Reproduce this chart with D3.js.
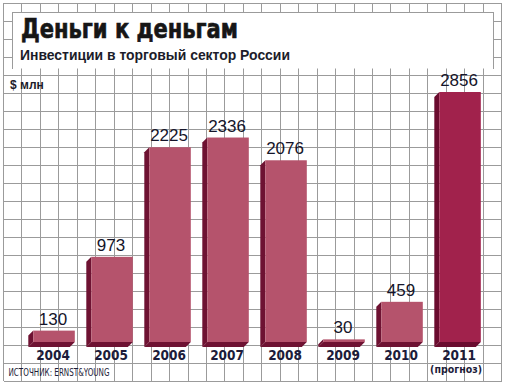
<!DOCTYPE html>
<html>
<head>
<meta charset="utf-8">
<script src="https://cdn.jsdelivr.net/npm/d3@7"></script>
<style>
  html, body { margin: 0; padding: 0; background: #fff; }
  svg { display: block; }
</style>
</head>
<body>
<div id="chart"></div>
<script>
const WIDTH = 507;
const HEIGHT = 385;
const DEPTH = 5; // 3d extrusion, down-left

// data
const years = ["2004", "2005", "2006", "2007", "2008", "2009", "2010", "2011"];
const values = [130, 973, 2225, 2336, 2076, 30, 459, 2856];
const notes = ["", "", "", "", "", "", "", "(прогноз)"];
const forecast = [false, false, false, false, false, false, false, true];

const svg = d3.select("#chart")
    .append("svg")
    .attr("width", WIDTH)
    .attr("height", HEIGHT);

// background grid
const grid = svg.append("g")
    .attr("stroke", "#9b9b9b")
    .attr("stroke-width", 1)
    .attr("shape-rendering", "crispEdges");

const gx = d3.range(28).map(k => 3.5 + k * 18.45);
const gy = d3.range(22).map(k => 381 - k * 18);

grid.selectAll(".vline")
    .data(gx)
    .enter().append("line")
    .attr("x1", d => d).attr("x2", d => d)
    .attr("y1", 3).attr("y2", 381);

grid.selectAll(".hline")
    .data(gy)
    .enter().append("line")
    .attr("x1", 3.5).attr("x2", gx[gx.length - 1])
    .attr("y1", d => d).attr("y2", d => d);

// white header box
svg.append("rect")
    .attr("x", 12.5).attr("y", 12.5)
    .attr("width", 481).attr("height", 56)
    .attr("fill", "#fff");
svg.append("path")
    .attr("d", "M12.5,68.5 V12.5 H493.5 V68.5")
    .attr("fill", "none")
    .attr("stroke", "#9b9b9b")
    .attr("shape-rendering", "crispEdges");

svg.append("text")
    .attr("x", 21).attr("y", 38)
    .attr("font-family", "DejaVu Sans, sans-serif")
    .attr("font-weight", "bold")
    .attr("font-size", 26)
    .attr("fill", "#161616")
    .attr("stroke", "#161616")
    .attr("stroke-width", 0.7)
    .attr("textLength", 217)
    .attr("lengthAdjust", "spacingAndGlyphs")
    .text("Деньги к деньгам");

svg.append("text")
    .attr("x", 20).attr("y", 59.5)
    .attr("font-family", "Liberation Sans, Arial, sans-serif")
    .attr("font-weight", "bold")
    .attr("font-size", 14)
    .attr("fill", "#1c1c2a")
    .attr("textLength", 270)
    .attr("lengthAdjust", "spacingAndGlyphs")
    .text("Инвестиции в торговый сектор России");

svg.append("text")
    .attr("x", 10).attr("y", 89)
    .attr("font-family", "Liberation Sans, Arial, sans-serif")
    .attr("font-weight", "bold")
    .attr("font-size", 12)
    .attr("fill", "#1c1c2a")
    .text("$ млн");

// scales
const x = d3.scaleBand()
    .domain(years)
    .range([33.3, 480.8])
    .paddingInner(0.2845)
    .paddingOuter(0);

const y = d3.scaleLinear()
    .domain([0, 2856])
    .range([342, 92]);

const rows = years.map((yr, i) => ({ year: yr, value: values[i], note: notes[i], forecast: forecast[i] }));

const bar = svg.selectAll(".bar")
    .data(rows)
    .enter().append("g")
    .attr("class", "bar");

const base = y(0);
const w = x.bandwidth();

// left side face
bar.append("path")
    .attr("fill", d => d.forecast ? "#6a0b2e" : "#6e1232")
    .attr("d", d => {
        const x0 = x(d.year), top = y(d.value);
        return `M${x0},${top} L${x0 - DEPTH},${top + DEPTH} L${x0 - DEPTH},${base + DEPTH} L${x0},${base} Z`;
    });

// bottom face
bar.append("path")
    .attr("fill", d => d.forecast ? "#6a0b2e" : "#6e1232")
    .attr("d", d => {
        const x0 = x(d.year);
        return `M${x0},${base} L${x0 + w},${base} L${x0 + w - DEPTH},${base + DEPTH} L${x0 - DEPTH},${base + DEPTH} Z`;
    });

// front face
bar.append("rect")
    .attr("x", d => x(d.year))
    .attr("y", d => y(d.value))
    .attr("width", w)
    .attr("height", d => base - y(d.value))
    .attr("fill", d => d.forecast ? "#a1224c" : "#b5536c");

// value labels
bar.append("text")
    .attr("x", d => x(d.year) + w / 2 - 1)
    .attr("y", d => y(d.value) - 6)
    .attr("text-anchor", "middle")
    .attr("font-family", "Liberation Sans, Arial, sans-serif")
    .attr("font-size", 17)
    .attr("fill", "#15152a")
    .text(d => d.value);

// year labels
bar.append("text")
    .attr("x", d => x(d.year) + w / 2 - 1)
    .attr("y", 359.5)
    .attr("text-anchor", "middle")
    .attr("font-family", "Liberation Sans Narrow, Arial Narrow, DejaVu Sans Condensed, sans-serif")
    .attr("font-weight", "bold")
    .attr("font-size", 13.5)
    .attr("fill", "#1c1c3a")
    .text(d => d.year);

bar.filter(d => d.note)
    .append("text")
    .attr("x", d => x(d.year) + w / 2 - 4)
    .attr("y", 372.5)
    .attr("text-anchor", "middle")
    .attr("font-family", "Liberation Sans Narrow, Arial Narrow, DejaVu Sans Condensed, sans-serif")
    .attr("font-weight", "bold")
    .attr("font-size", 10.5)
    .attr("fill", "#1c1c3a")
    .text(d => d.note);

svg.append("text")
    .attr("x", 8.5).attr("y", 376)
    .attr("font-family", "Liberation Sans Narrow, Arial Narrow, DejaVu Sans Condensed, sans-serif")
    .attr("font-size", 10.5)
    .attr("fill", "#1c1c3a")
    .attr("textLength", 101)
    .attr("lengthAdjust", "spacingAndGlyphs")
    .text("ИСТОЧНИК: ERNST&YOUNG");
</script>
</body>
</html>
